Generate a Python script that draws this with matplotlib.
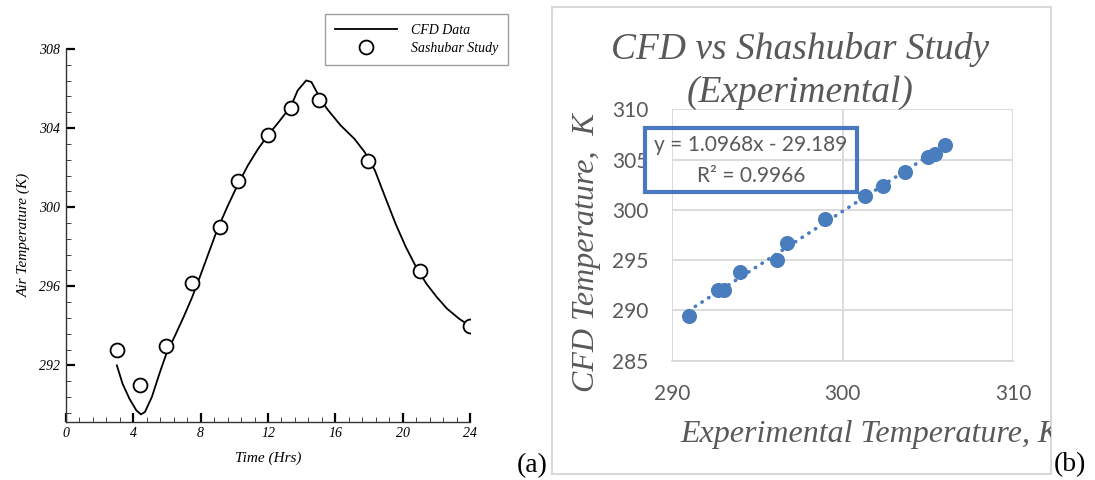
import numpy as np
import matplotlib
matplotlib.use("Agg")
import matplotlib.pyplot as plt
from matplotlib.patches import Rectangle
from matplotlib.ticker import MultipleLocator

# (a) CFD curve and measured points over the day
cfd_time = [3.02, 3.36, 3.77, 4.18, 4.45, 4.69, 5.10, 5.55, 5.95, 6.53, 7.03, 7.50,
            7.95, 8.46, 8.97, 9.58, 10.18, 10.81, 11.42, 11.99, 12.64, 13.36, 13.76,
            14.27, 14.58, 15.0, 15.5, 16.31, 17.13, 17.74, 18.35, 18.96, 19.58, 20.19,
            20.8, 21.41, 22.02, 22.63, 23.35, 23.98]
cfd_air = [292.0, 291.07, 290.31, 289.72, 289.52, 289.64, 290.4, 291.58, 292.56, 293.6,
           294.53, 295.46, 296.47, 297.65, 298.83, 300.01, 301.1, 302.12, 302.96, 303.63,
           304.31, 305.1, 305.9, 306.41, 306.33, 305.66, 304.98, 304.14, 303.46, 302.79,
           301.86, 300.51, 299.16, 297.98, 296.97, 296.13, 295.46, 294.87, 294.36, 294.0]
study_time = [3.0, 4.4, 5.95, 7.5, 9.15, 10.2, 12.0, 13.35, 15.0, 17.95, 21.05, 24.0]
study_air = [292.8, 291.0, 293.0, 296.15, 299.0, 301.3, 303.65, 305.0, 305.4, 302.35,
             296.75, 294.0]

# (b) CFD vs experimental
exp_temp = [290.99, 292.73, 293.04, 293.99, 296.17, 296.74, 299.0, 301.3, 302.35,
            303.63, 305.03, 305.42, 306.03]
cfd_temp = [289.47, 292.02, 292.02, 293.84, 295.0, 296.72, 299.14, 301.39, 302.35,
            303.77, 305.26, 305.6, 306.42]
slope, intercept, r2 = 1.0968, -29.189, 0.9966

W, H = 1095, 480
fig = plt.figure(figsize=(W / 100, H / 100), dpi=100)

def box(x0, y0, x1, y1):
    # pixel box (top-left origin) -> figure fraction rect
    return [x0 / W, 1 - y1 / H, (x1 - x0) / W, (y1 - y0) / H]

serif_i = dict(family="Liberation Serif", style="italic")

# ---------- panel (a) ----------
ax1 = fig.add_axes(box(66, 49, 470, 421.7))
ax1.plot(cfd_time, cfd_air, color="black", lw=1.3, label="CFD Data")
ax1.plot(study_time, study_air, "o", mfc="white", mec="black", mew=1.3, ms=10,
         label="Sashubar Study")
ax1.set_xlim(0, 24)
ax1.set_ylim(289.15, 308)
ax1.xaxis.set_major_locator(MultipleLocator(4))
ax1.xaxis.set_minor_locator(MultipleLocator(0.8))
ax1.yaxis.set_major_locator(MultipleLocator(4))
ax1.yaxis.set_minor_locator(MultipleLocator(0.8))
for s in ["top", "right"]:
    ax1.spines[s].set_visible(False)
for s in ["left", "bottom"]:
    ax1.spines[s].set_linewidth(1.0)
    ax1.spines[s].set_color("#333333")
ax1.tick_params(which="major", direction="in", length=6.5, width=1.6, pad=4)
ax1.tick_params(which="minor", direction="in", length=3.5, width=0.7, color="#444444")
for lab in ax1.get_xticklabels() + ax1.get_yticklabels():
    lab.set_fontfamily("Liberation Serif")
    lab.set_fontstyle("italic")
    lab.set_fontsize(10)
ax1.set_xlabel("Time (Hrs)", fontsize=11, labelpad=8, **serif_i)
ax1.set_ylabel("Air Temperature (K)", fontsize=11, labelpad=6, **serif_i)

leg = fig.legend(*ax1.get_legend_handles_labels(), loc="upper left",
                 bbox_to_anchor=(325 / W, 1 - 14 / H), frameon=True, fancybox=False,
                 prop=dict(family="Liberation Serif", style="italic", size=10),
                 handlelength=4.5, borderpad=0.7, labelspacing=0.4, handletextpad=1.0,
                 borderaxespad=0)
leg.get_frame().set_edgecolor("#888888")
leg.get_frame().set_linewidth(1.0)

fig.text(532 / W, 1 - 466 / H, "(a)", ha="center", va="center",
         family="Liberation Serif", fontsize=20)

# ---------- panel (b) ----------
gray = "#595959"
blue = "#4a7dbe"

ax2 = fig.add_axes(box(671.7, 109.3, 1013.3, 360.7))
ax2.set_xlim(290, 310)
ax2.set_ylim(285, 310)
ax2.set_xticks([290, 300, 310])
ax2.set_yticks([285, 290, 295, 300, 305, 310])
ax2.grid(True, color="#d9d9d9", lw=1.3)
ax2.set_axisbelow(True)
for s in ax2.spines.values():
    s.set_visible(False)
ax2.spines["bottom"].set_visible(True)
ax2.spines["bottom"].set_color("#d9d9d9")
ax2.spines["bottom"].set_linewidth(1.3)
ax2.tick_params(length=0, labelcolor=gray, labelsize=15)
ax2.tick_params(axis="x", pad=17)
ax2.tick_params(axis="y", pad=17)
for lab in ax2.get_xticklabels() + ax2.get_yticklabels():
    lab.set_fontfamily("Lato")

fit_x = np.array([min(exp_temp), max(exp_temp)])
ax2.plot(fit_x, slope * fit_x + intercept, color=blue, lw=2.6,
         linestyle=(0, (0.1, 2.1)), dash_capstyle="round", zorder=2)
ax2.scatter(exp_temp, cfd_temp, s=118, color=blue, zorder=3, linewidths=0)

# chart frame, titles and trendline label drawn on a transparent overlay
frame = fig.add_axes(box(551.7, 7, 1051, 474.3), zorder=5)
frame.set_xlim(551.7, 1051)
frame.set_ylim(474.3, 7)
frame.axis("off")
frame.patch.set_visible(False)
frame.add_patch(Rectangle((551.7, 7), 1051 - 551.7, 474.3 - 7, fill=False,
                          ec="#d9d9d9", lw=1.5, clip_on=False))
frame.text(800, 50, "CFD vs Shashubar Study", ha="center", va="center", color=gray,
           fontsize=27, **serif_i)
frame.text(800, 93, "(Experimental)", ha="center", va="center", color=gray,
           fontsize=27, **serif_i)
frame.text(587, 253, "CFD Temperature,  K", ha="center", va="center", rotation=90,
           color=gray, fontsize=23, **serif_i)
frame.text(680, 435, "Experimental Temperature, K", ha="left", va="center", color=gray,
           fontsize=23, clip_on=True, **serif_i)

frame.add_patch(Rectangle((645, 128), 857 - 645, 192 - 128, fill=False, ec="#4a78be",
                          lw=3.0))
frame.text(751, 145, f"y = {slope:.4f}x - {abs(intercept):.3f}", ha="center",
           va="center", color=gray, fontsize=15, family="Lato")
frame.text(751, 176, f"R² = {r2:.4f}", ha="center", va="center", color=gray,
           fontsize=15, family="Lato")

fig.text(1070 / W, 1 - 465 / H, "(b)", ha="center", va="center",
         family="Liberation Serif", fontsize=20)

fig.savefig("out.png", dpi=100)
